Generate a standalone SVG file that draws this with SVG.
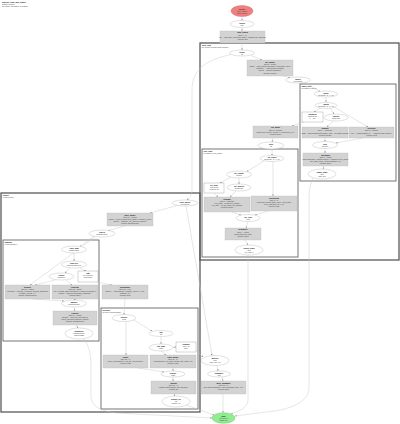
<svg xmlns="http://www.w3.org/2000/svg" width="400" height="424" viewBox="0 0 400 424">
<style>
text{font-family:"Liberation Sans",Arial,sans-serif;font-size:1.9px;fill:#444;text-anchor:middle}
.b{font-weight:bold;fill:#111}
.l{text-anchor:start}
.ell{fill:#fff;stroke:#999;stroke-width:0.3}
.op{fill:#d3d3d3;stroke:#b5b5b5;stroke-width:0.3}
.note{fill:#fff;stroke:#777;stroke-width:0.3}
.cl{fill:none;stroke:#5a5a5a;stroke-width:1.3}
.ci{fill:none;stroke:#666;stroke-width:0.9}
.e{fill:none;stroke:#c8c8c8;stroke-width:0.45;marker-end:url(#ah)}
</style>
<defs>
<marker id="ah" viewBox="0 0 10 10" refX="10" refY="5" markerWidth="1.6" markerHeight="1.6" markerUnits="userSpaceOnUse" orient="auto"><path d="M0,0L10,5L0,10z" fill="#888"/></marker>
</defs>
<rect width="400" height="424" fill="#fff"/>
<g id="title">
<text class="l b" x="2" y="3">pipeline: train_and_export</text>
<text class="l" x="2" y="5.3">graph of main()</text>
<text class="l" x="2" y="7.3">51 nodes, 63 edges, 5 clusters</text>
</g>
<g id="clusters">
<g id="cluster_train"><rect class="cl" x="200" y="43" width="199" height="217"/><text class="l b" x="201.8" y="46">train_loop</text><text class="l" x="201.8" y="48.2">for epoch in range(cfg['epochs'])</text></g>
<g id="cluster_batch"><rect class="ci" x="300" y="84" width="96" height="97"/><text class="l b" x="301.5" y="86.8">batch_loop</text><text class="l" x="301.5" y="89">for batch in loader</text></g>
<g id="cluster_eval"><rect class="ci" x="202" y="149" width="96" height="108"/><text class="l b" x="203.5" y="151.8">eval_loop</text><text class="l" x="203.5" y="154">for batch in val_loader</text></g>
<g id="cluster_export"><rect class="cl" x="1" y="193" width="199" height="219"/><text class="l b" x="2.8" y="196">export</text><text class="l" x="2.8" y="198.2">if cfg['export']</text></g>
<g id="cluster_quant"><rect class="ci" x="3" y="240" width="96" height="101"/><text class="l b" x="4.5" y="242.8">quantize</text><text class="l" x="4.5" y="245">if cfg['quantize']</text></g>
<g id="cluster_serialize"><rect class="ci" x="101" y="308" width="97" height="101"/><text class="l b" x="102.5" y="310.8">serialize</text><text class="l" x="102.5" y="313">for fmt in cfg['formats']</text></g>
</g>
<g id="edges">
<path class="e" d="M242,16.5L242,20.5"/>
<path class="e" d="M242,27.5L242,31"/>
<path class="e" d="M242,43L242,50"/>
<path class="e" d="M251,55.5L262,60"/>
<path class="e" d="M231,54.5C205,60 192,70 192,90L192,190C192,196 189,198 187,200"/>
<path class="e" d="M283,76L290,77.5"/>
<path class="e" d="M305,82.5L320,91.5"/>
<path class="e" d="M326,97L326,102"/>
<path class="e" d="M321,107.5L314,112"/>
<path class="e" d="M330,108L334,114"/>
<path class="e" d="M334,107L368,127"/>
<path class="e" d="M304,122L292,126"/>
<path class="e" d="M333,121L327,127"/>
<path class="e" d="M325,138L325,141.5"/>
<path class="e" d="M363,138L336,143"/>
<path class="e" d="M325,148.5L325,153"/>
<path class="e" d="M324,166L323,169"/>
<path class="e" d="M313,178C310,185 309,190 309,200L309,388C309,402 290,410 266,412L235,416"/>
<path class="e" d="M273,138L272,142"/>
<path class="e" d="M272,149L272,155.5"/>
<path class="e" d="M264,161L247,171.5"/>
<path class="e" d="M273,161.5L273,196"/>
<path class="e" d="M239,178L239,184"/>
<path class="e" d="M231,177L220,183"/>
<path class="e" d="M236,191L230,197"/>
<path class="e" d="M214,193L218,197"/>
<path class="e" d="M232,212L241,215"/>
<path class="e" d="M268,211L255,215"/>
<path class="e" d="M248,221.5L246,228"/>
<path class="e" d="M245,240L248,245"/>
<path class="e" d="M248,255L248,400C248,408 238,412 231,413.5"/>
<path class="e" d="M177,205.5L150,213"/>
<path class="e" d="M186,206L212,355.5"/>
<path class="e" d="M125,226L108,230.5"/>
<path class="e" d="M94,236L80,246.5"/>
<path class="e" d="M95,237L30,285"/>
<path class="e" d="M74,253L74,261"/>
<path class="e" d="M70,268L65,273"/>
<path class="e" d="M80,268L86,271"/>
<path class="e" d="M66,280L72,285"/>
<path class="e" d="M55,280L35,285"/>
<path class="e" d="M97,282L112,285"/>
<path class="e" d="M33,299L64,301"/>
<path class="e" d="M75,299L74,300"/>
<path class="e" d="M74,307L75,311"/>
<path class="e" d="M76,325L78,328"/>
<path class="e" d="M84,339C89,346 91,355 91,365L91,396C91,406 100,411 116,413L212,418"/>
<path class="e" d="M125,299L124,314.5"/>
<path class="e" d="M126,321.5L126,355"/>
<path class="e" d="M134,320L152,331"/>
<path class="e" d="M161,336.5L161,344"/>
<path class="e" d="M173,347.5L176,347"/>
<path class="e" d="M161,351L166,355"/>
<path class="e" d="M196,350L203,357"/>
<path class="e" d="M138,368L164,372"/>
<path class="e" d="M173,368L173,371"/>
<path class="e" d="M173,377L173,381"/>
<path class="e" d="M174,394L175,396"/>
<path class="e" d="M186,405L214,415"/>
<path class="e" d="M217,365.5L218,371"/>
<path class="e" d="M222,377L223,381"/>
<path class="e" d="M223,394L223,412.5"/>
</g>
<g id="n_start"><ellipse cx="242" cy="11" rx="11" ry="5.5" fill="#f08080" stroke="#cd5c5c" stroke-width="0.4"/><text class="b" x="242" y="9.6">START</text><text x="242" y="11.8">entry: main()</text><text x="242" y="14">args: config</text></g>
<g id="n1"><ellipse class="ell" cx="242" cy="24" rx="12" ry="3.5"/><text class="b" x="242" y="23.6">config</text><text x="242" y="25.8">dict</text></g>
<g id="n2"><rect class="op" x="220" y="31" width="45" height="12"/><text class="b" x="242.5" y="33.4">load_config</text><text x="242.5" y="35.6">step 1 · io</text><text x="242.5" y="37.8">cfg = yaml.safe_load(open(path)); validate(cfg, schema)</text><text x="242.5" y="40">returns: dict</text></g>
<g id="n3"><ellipse class="ell" cx="242" cy="53" rx="12.5" ry="3"/><text class="b" x="242" y="52.6">epoch</text><text x="242" y="54.8">int</text></g>
<g id="n4"><rect class="op" x="247" y="60" width="46" height="16"/><text class="b" x="270" y="62.6">init_model</text><text x="270" y="64.8">step 2 · model</text><text x="270" y="67">model = build_model(cfg['arch'], pretrained=True)</text><text x="270" y="69.2">optimizer = Adam(model.params)</text><text x="270" y="71.4">sched = Plateau(optimizer)</text><text x="270" y="73.6">returns: Module</text></g>
<g id="n5"><ellipse class="ell" cx="298" cy="80" rx="12.5" ry="3"/><text class="b" x="298" y="79.6">model</text><text x="298" y="81.8">nn.Module</text></g>
<g id="n6"><ellipse class="ell" cx="326" cy="94" rx="12" ry="3"/><text class="b" x="326" y="93.6">batch</text><text x="326" y="95.8">Tensor[B, C, H, W]</text></g>
<g id="n7"><ellipse class="ell" cx="326" cy="105.5" rx="11" ry="3"/><text class="b" x="326" y="105.1">inputs</text><text x="326" y="107.3">Tensor[B, C, H, W]</text></g>
<g id="n8"><rect class="note" x="302" y="112" width="21" height="10"/><text class="b" x="312.5" y="114.8">augment</text><text x="312.5" y="117">random flip</text><text x="312.5" y="119.2">p = 0.5</text></g>
<g id="n9"><ellipse class="ell" cx="336" cy="117.5" rx="12" ry="3.5"/><text class="b" x="336" y="117.1">targets</text><text x="336" y="119.3">Tensor[B]</text></g>
<g id="n10"><rect class="op" x="253" y="126" width="45" height="12"/><text class="b" x="275.5" y="128.4">log_batch</text><text x="275.5" y="130.6">step 3 · metrics</text><text x="275.5" y="132.8">logger.log({'epoch': epoch, 'lr': sched.get_lr()})</text><text x="275.5" y="135">returns: None</text></g>
<g id="n11"><rect class="op" x="302" y="127" width="46" height="11"/><text class="b" x="325" y="129.3">forward</text><text x="325" y="131.4">step 4 · compute</text><text x="325" y="133.5">logits = model(augment(inputs)); loss = ce(logits, targets)</text><text x="325" y="135.6">returns: Tensor</text></g>
<g id="n12"><rect class="op" x="349" y="127" width="45" height="11"/><text class="b" x="371.5" y="129.3">accuracy</text><text x="371.5" y="131.4">step 5 · metrics</text><text x="371.5" y="133.5">acc = (logits.argmax(1) == targets).float().mean()</text><text x="371.5" y="135.6">returns: float</text></g>
<g id="n13"><ellipse class="ell" cx="325" cy="145" rx="12.5" ry="3.5"/><text class="b" x="325" y="144.6">loss</text><text x="325" y="146.8">Tensor[]</text></g>
<g id="n14"><rect class="op" x="303" y="153" width="45" height="13"/><text class="b" x="325.5" y="155.5">backward</text><text x="325.5" y="157.7">step 6 · optim</text><text x="325.5" y="159.9">loss.backward(); optimizer.step(); optimizer.zero_grad()</text><text x="325.5" y="162.1">clip_grad_norm_(model.params, 1.0)</text><text x="325.5" y="164.3">returns: None</text></g>
<g id="n15"><ellipse class="ell" cx="322" cy="174" rx="14" ry="5"/><text class="b" x="322" y="172.5">batch_stats</text><text x="322" y="174.7">dict</text><text x="322" y="176.9">loss, acc</text></g>
<g id="n16"><ellipse class="ell" cx="271" cy="145.5" rx="13" ry="3.5"/><text class="b" x="271" y="145.1">step</text><text x="271" y="147.3">int</text></g>
<g id="n17"><ellipse class="ell" cx="272" cy="158.5" rx="12" ry="3"/><text class="b" x="272" y="158.1">val_batch</text><text x="272" y="160.3">Tensor[B, C, H, W]</text></g>
<g id="n18"><ellipse class="ell" cx="239" cy="174.5" rx="12.5" ry="3.5"/><text class="b" x="239" y="174.1">val_inputs</text><text x="239" y="176.3">Tensor</text></g>
<g id="n19"><rect class="note" x="204" y="183" width="20" height="10"/><text class="b" x="214" y="185.8">no_grad</text><text x="214" y="188">eval mode</text><text x="214" y="190.2">dropout off</text></g>
<g id="n20"><ellipse class="ell" cx="239" cy="187.5" rx="12" ry="3.5"/><text class="b" x="239" y="187.1">val_targets</text><text x="239" y="189.3">Tensor[B]</text></g>
<g id="n21"><rect class="op" x="204" y="197" width="46" height="15"/><text class="b" x="227" y="199.5">evaluate</text><text x="227" y="201.7">step 7 · compute</text><text x="227" y="203.9">val_logits = model(val_inputs)</text><text x="227" y="206.1">val_loss = ce(val_logits, val_targets)</text><text x="227" y="208.3">returns: Tensor</text></g>
<g id="n22"><rect class="op" x="251" y="196" width="46" height="15"/><text class="b" x="274" y="198.5">checkpoint</text><text x="274" y="200.7">step 8 · io</text><text x="274" y="202.9">torch.save(model.state_dict(), ckpt_path)</text><text x="274" y="205.1">keep_last(ckpt_dir, n=3)</text><text x="274" y="207.3">returns: Path</text></g>
<g id="n23"><ellipse class="ell" cx="248" cy="218" rx="12" ry="3.5"/><text class="b" x="248" y="217.6">val_loss</text><text x="248" y="219.8">float</text></g>
<g id="n24"><rect class="op" x="225" y="228" width="36" height="12"/><text class="b" x="243" y="230.4">scheduler</text><text x="243" y="232.6">step 9 · optim</text><text x="243" y="234.8">sched.step(val_loss)</text><text x="243" y="237">returns: None</text></g>
<g id="n25"><ellipse class="ell" cx="249" cy="250" rx="14" ry="5"/><text class="b" x="249" y="248.5">epoch_stats</text><text x="249" y="250.7">dict</text><text x="249" y="252.9">val_loss, lr</text></g>
<g id="n26"><ellipse class="ell" cx="185" cy="203" rx="13" ry="3"/><text class="b" x="185" y="202.6">best_model</text><text x="185" y="204.8">nn.Module</text></g>
<g id="n27"><rect class="op" x="107" y="213" width="46" height="13"/><text class="b" x="130" y="215.5">trace_model</text><text x="130" y="217.7">step 10 · export</text><text x="130" y="219.9">traced = torch.jit.trace(best_model, example_input)</text><text x="130" y="222.1">traced = optimize_for_inference(traced)</text><text x="130" y="224.3">returns: ScriptModule</text></g>
<g id="n28"><ellipse class="ell" cx="102" cy="233.5" rx="13" ry="3.5"/><text class="b" x="102" y="233.1">traced</text><text x="102" y="235.3">ScriptModule</text></g>
<g id="n29"><ellipse class="ell" cx="74" cy="249.5" rx="12.5" ry="3.5"/><text class="b" x="74" y="249.1">calib_data</text><text x="74" y="251.3">DataLoader</text></g>
<g id="n30"><ellipse class="ell" cx="74" cy="264.5" rx="12.5" ry="3.5"/><text class="b" x="74" y="264.1">observer</text><text x="74" y="266.3">MinMaxObserver</text></g>
<g id="n31"><ellipse class="ell" cx="61.5" cy="276.5" rx="12.5" ry="3.5"/><text class="b" x="61.5" y="276.1">scales</text><text x="61.5" y="278.3">Tensor[K]</text></g>
<g id="n32"><rect class="note" x="78" y="271" width="20" height="11"/><text class="b" x="88" y="274">int8</text><text x="88" y="276.2">per-channel</text><text x="88" y="278.4">symmetric</text></g>
<g id="n33"><rect class="op" x="5" y="285" width="45" height="14"/><text class="b" x="27.5" y="287.5">prepare</text><text x="27.5" y="289.7">step 11 · quant</text><text x="27.5" y="291.9">prepared = prepare_fx(traced, qconfig_mapping)</text><text x="27.5" y="294.1">example_inputs=(x,)</text><text x="27.5" y="296.3">returns: GraphModule</text></g>
<g id="n34"><rect class="op" x="52" y="285" width="46" height="14"/><text class="b" x="75" y="287.5">calibrate</text><text x="75" y="289.7">step 12 · quant</text><text x="75" y="291.9">for x in calib_data: prepared(x); observer.update(x)</text><text x="75" y="294.1">scales = observer.calculate_qparams()</text><text x="75" y="296.3">returns: None</text></g>
<g id="n35"><rect class="op" x="102" y="285" width="46" height="14"/><text class="b" x="125" y="287.5">benchmark</text><text x="125" y="289.7">step 13 · eval</text><text x="125" y="291.9">latency = timeit(traced, example_input, n=100)</text><text x="125" y="294.1">warmup=10</text><text x="125" y="296.3">returns: float</text></g>
<g id="n36"><ellipse class="ell" cx="74" cy="303.5" rx="12.5" ry="3.5"/><text class="b" x="74" y="303.1">qmodel</text><text x="74" y="305.3">GraphModule</text></g>
<g id="n37"><rect class="op" x="53" y="311" width="44" height="14"/><text class="b" x="75" y="313.5">convert</text><text x="75" y="315.7">step 14 · quant</text><text x="75" y="317.9">qmodel = convert_fx(prepared)</text><text x="75" y="320.1">check_accuracy(qmodel, traced)</text><text x="75" y="322.3">returns: GraphModule</text></g>
<g id="n38"><ellipse class="ell" cx="79" cy="333.5" rx="14" ry="5.5"/><text class="b" x="79" y="332">quantized</text><text x="79" y="334.2">GraphModule</text><text x="79" y="336.4">int8 weights</text></g>
<g id="n39"><ellipse class="ell" cx="124" cy="318" rx="12" ry="3.5"/><text class="b" x="124" y="317.6">latency</text><text x="124" y="319.8">float</text></g>
<g id="n40"><ellipse class="ell" cx="161" cy="333.5" rx="12" ry="3"/><text class="b" x="161" y="333.1">fmt</text><text x="161" y="335.3">str</text></g>
<g id="n41"><ellipse class="ell" cx="161" cy="347.5" rx="12" ry="3.5"/><text class="b" x="161" y="347.1">out_path</text><text x="161" y="349.3">Path</text></g>
<g id="n42"><rect class="note" x="176" y="342" width="20" height="10"/><text class="b" x="186" y="344.8">formats</text><text x="186" y="347">onnx, pt</text><text x="186" y="349.2">tflite</text></g>
<g id="n43"><rect class="op" x="103" y="355" width="45" height="13"/><text class="b" x="125.5" y="357.5">report</text><text x="125.5" y="359.7">step 15 · io</text><text x="125.5" y="361.9">write_report(latency, out_dir / 'bench.json')</text><text x="125.5" y="364.1">returns: Path</text></g>
<g id="n44"><rect class="op" x="150" y="355" width="46" height="13"/><text class="b" x="173" y="357.5">save_model</text><text x="173" y="359.7">step 16 · io</text><text x="173" y="361.9">export(traced, out_path, format=fmt, opset=17)</text><text x="173" y="364.1">returns: Path</text></g>
<g id="n45"><ellipse class="ell" cx="173" cy="374" rx="12" ry="3"/><text class="b" x="173" y="373.6">artifact</text><text x="173" y="375.8">Path</text></g>
<g id="n46"><rect class="op" x="151" y="381" width="45" height="13"/><text class="b" x="173.5" y="383.5">upload</text><text x="173.5" y="385.7">step 17 · io</text><text x="173.5" y="387.9">registry.push(artifact, tag=cfg['tag'])</text><text x="173.5" y="390.1">returns: str</text></g>
<g id="n47"><ellipse class="ell" cx="176" cy="401.5" rx="14" ry="5.5"/><text class="b" x="176" y="400">artifact_uri</text><text x="176" y="402.2">str</text><text x="176" y="404.4">registry url</text></g>
<g id="n48"><ellipse class="ell" cx="215" cy="360.5" rx="14" ry="5"/><text class="b" x="215" y="359">metrics</text><text x="215" y="361.2">dict</text><text x="215" y="363.4">loss, acc, val</text></g>
<g id="n49"><ellipse class="ell" cx="219" cy="374" rx="11.5" ry="3"/><text class="b" x="219" y="373.6">summary</text><text x="219" y="375.8">dict</text></g>
<g id="n50"><rect class="op" x="201" y="381" width="45" height="13"/><text class="b" x="223.5" y="383.5">write_summary</text><text x="223.5" y="385.7">step 18 · io</text><text x="223.5" y="387.9">json.dump(summary, open('summary.json', 'w'))</text><text x="223.5" y="390.1">returns: None</text></g>
<g id="n_end"><ellipse cx="223.5" cy="418" rx="11.5" ry="5.3" fill="#90ee90" stroke="#5cb85c" stroke-width="0.4"/><text class="b" x="223.5" y="416.6">END</text><text x="223.5" y="418.8">exit code 0</text><text x="223.5" y="421">status: ok</text></g>
</svg>
